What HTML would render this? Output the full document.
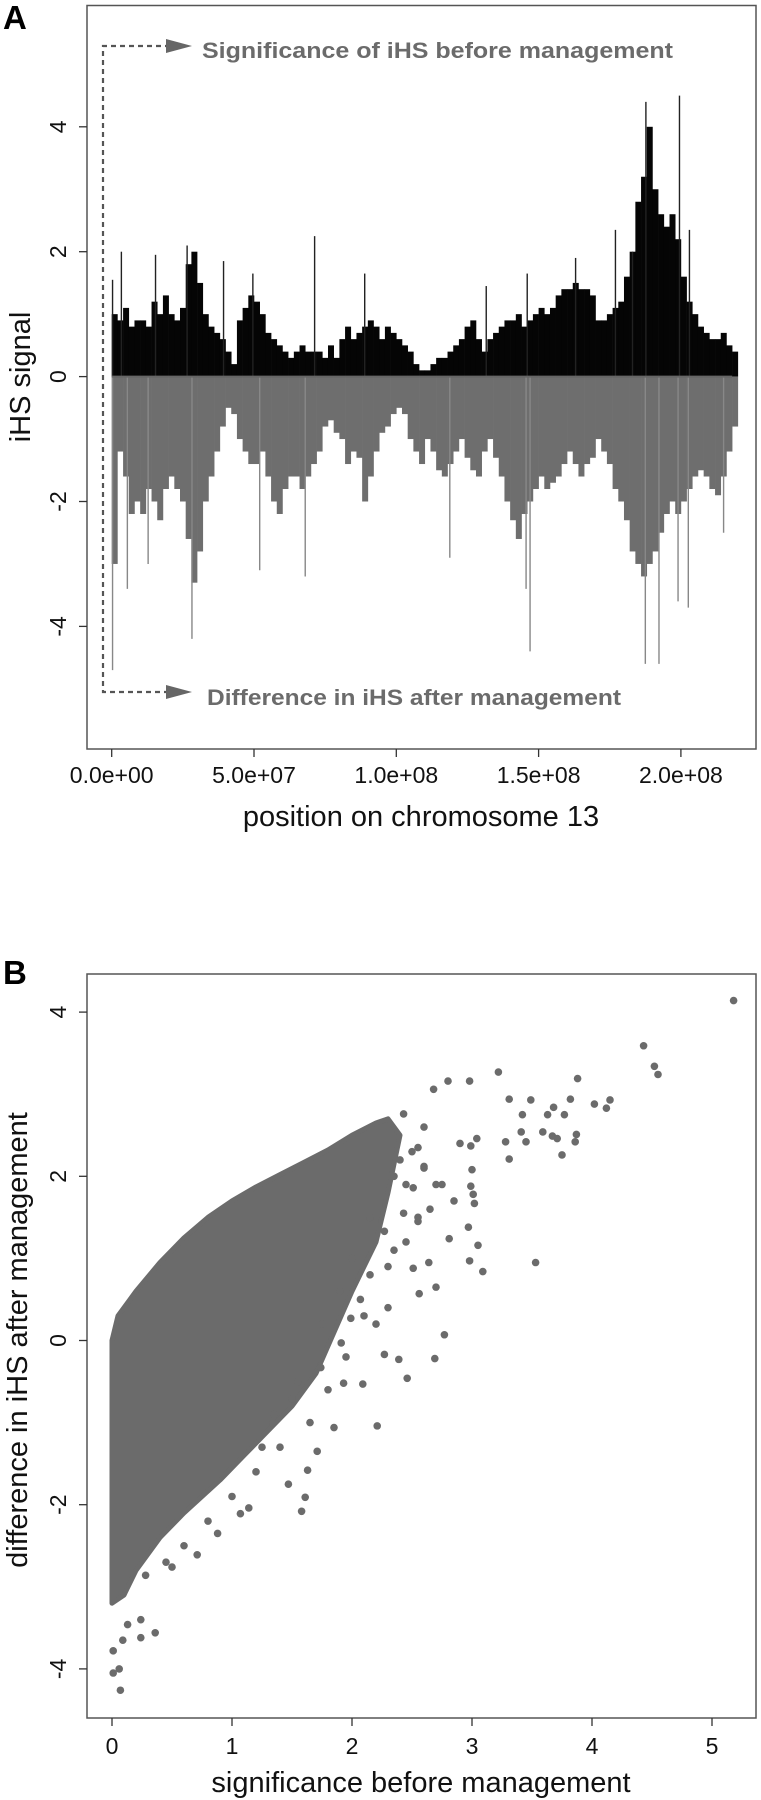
<!DOCTYPE html>
<html><head><meta charset="utf-8"><style>
html,body{margin:0;padding:0;background:#fff;}
svg{display:block;font-family:"Liberation Sans",Arial,sans-serif;}
</style></head><body>
<svg id="fig" width="761" height="1800" viewBox="0 0 761 1800" xmlns="http://www.w3.org/2000/svg">
<text x="3" y="29" font-size="33" font-weight="bold">A</text>
<text x="3" y="984" font-size="33" font-weight="bold">B</text>
<g id="pa"></g>
<g id="pb"></g>
</svg>
<script>
// ---------- Panel A data (bins of 2e6 bp) ----------
const binSizeA = 2e6;
const beforeVals = [1.0,0.9,1.1,0.8,0.9, 0.9,0.8,1.2,1.0,1.3, 1.0,0.9,1.1,1.8,2.0, 1.5,1.0,0.8,0.7,0.6,
 0.4,0.2,0.9,1.1,1.3, 1.2,1.0,0.7,0.6,0.5, 0.4,0.3,0.4,0.5,0.4, 0.4,0.4,0.3,0.5,0.3,
 0.6,0.8,0.6,0.7,0.8, 0.9,0.8,0.6,0.8,0.7, 0.6,0.5,0.4,0.2,0.1, 0.1,0.2,0.3,0.3,0.4,
 0.5,0.6,0.8,0.9,0.6, 0.4,0.6,0.7,0.8,0.9, 0.9,1.0,0.8,0.9,1.0, 1.1,1.0,1.1,1.3,1.4,
 1.4,1.5,1.4,1.4,1.3, 0.9,0.9,1.0,1.1,1.2, 1.6,2.0,2.8,3.2,4.0, 3.0,2.6,2.4,2.6,2.2,
 1.6,1.2,1.0,0.8,0.7, 0.6,0.6,0.7,0.5,0.4];
const afterVals = [-3.0,-1.2,-1.6,-2.2,-2.0, -2.2,-1.8,-2.0,-2.3,-1.8, -1.6,-1.8,-2.0,-2.6,-3.3, -2.8,-2.0,-1.6,-1.2,-0.8,
 -0.5,-0.6,-1.0,-1.2,-1.4, -1.4,-1.2,-1.6,-2.0,-2.2, -1.8,-1.6,-1.6,-1.8,-1.6, -1.4,-1.2,-0.8,-0.7,-0.9,
 -1.0,-1.4,-1.2,-1.3,-2.0, -1.6,-1.2,-0.9,-0.8,-0.6, -0.5,-0.6,-1.0,-1.2,-1.4, -1.0,-1.2,-1.5,-1.6,-1.4,
 -1.2,-1.0,-1.3,-1.5,-1.6, -1.2,-1.0,-1.3,-1.6,-2.0, -2.3,-2.6,-2.2,-2.0,-1.8, -1.6,-1.8,-1.7,-1.6,-1.4,
 -1.2,-1.4,-1.6,-1.4,-1.3, -1.0,-1.2,-1.4,-1.8,-2.0, -2.3,-2.8,-3.0,-3.2,-3.0, -2.8,-2.5,-2.2,-2.0,-2.2,
 -2.0,-1.8,-1.6,-1.5,-1.6, -1.8,-1.9,-1.6,-1.2,-0.8];
const posSpikeMb = [0.3,3.4,15.4,26.5,39.3,49.6,71.3,88.9,131.6,146,163,177,183,187.7,199.5,203];
const posSpikeVal = [1.55,2.0,1.95,2.1,1.85,1.65,2.25,1.65,1.45,1.65,1.9,2.35,2.0,4.4,4.5,2.35];
const negSpikeMb = [0.3,5.5,12.8,28.2,52,68,118.8,145.6,147,187.5,192.3,199,202.6,215];
const negSpikeVal = [-4.7,-3.4,-3.0,-4.2,-3.1,-3.2,-2.9,-3.4,-4.4,-4.6,-4.6,-3.6,-3.7,-2.5];
const xTicksA = [0,5e7,1e8,1.5e8,2e8];
const xTickLabelsA = ["0.0e+00","5.0e+07","1.0e+08","1.5e+08","2.0e+08"];
const yTicksA = [-4,-2,0,2,4];

// ---------- Panel B data ----------
const cloudX = [0,0.05,0.2,0.4,0.6,0.8,1.0,1.2,1.4,1.6,1.8,2.0,2.2,2.3,2.4,2.3,2.2,2.0,1.85,1.7,1.5,1.3,1.1,0.9,0.6,0.4,0.2,0.1,0];
const cloudY = [0,0.3,0.6,0.95,1.25,1.5,1.7,1.87,2.02,2.17,2.32,2.5,2.65,2.7,2.5,1.8,1.2,0.6,0.1,-0.4,-0.8,-1.1,-1.4,-1.7,-2.1,-2.4,-2.8,-3.1,-3.2];
const ptX = [5.18,4.43,4.52,4.55,4.15,4.12,4.02,3.88,3.82,3.87,3.86,3.75,3.77,3.68,3.63,3.59,3.67,3.71,
 3.49,3.42,3.41,3.45,3.31,3.28,3.31,3.22,2.98,2.80,2.68,3.53,3.09,3.05,2.98,2.97,3.0,3.01,3.02,2.99,3.04,2.99,
 2.77,2.69,2.46,2.21,1.85,1.58,1.61,1.47,1.63,1.71,2.81,2.70,2.56,2.64,2.51,2.39,2.27,2.09,1.93,
 1.14,1.07,0.88,0.71,0.50,0.28,0.24,0.36,0.13,0.24,0.09,0.01,0.06,0.01,0.07,
 2.15,2.07,1.99,1.91,1.74,1.5,1.34,2.43,2.35,2.51,2.27,2.6,2.43,2.6,2.35,2.2,2.45,2.55,
 2.5,2.6,2.75,2.85,2.9,2.55,2.45,2.3,2.1,1.95,1.8,1.65,1.4,1.2,1.0,0.8,0.6,0.45,
 2.3,2.15,2.0,1.9,1.75,1.55,1.35,1.25,2.65,2.7,2.4,2.55];
const ptY = [4.14,3.59,3.34,3.24,2.93,2.83,2.88,3.19,2.94,2.51,2.42,2.26,2.75,2.84,2.75,2.54,2.49,2.46,
 2.93,2.75,2.54,2.42,2.94,2.42,2.21,3.27,3.16,3.16,3.06,0.95,0.84,1.16,0.97,1.38,2.08,1.78,1.67,1.88,2.46,2.37,
 0.07,-0.22,-0.46,-1.04,-1.06,-2.08,-1.91,-1.75,-1.58,-1.35,1.24,0.65,0.57,0.95,0.88,-0.23,-0.17,-0.53,-0.52,
 -2.04,-2.11,-2.35,-2.61,-2.76,-2.86,-3.40,-3.56,-3.46,-3.62,-3.65,-3.78,-4.0,-4.05,-4.26,
 0.80,0.5,0.27,-0.03,-0.33,-0.71,-1.01,1.55,2.0,1.86,1.33,2.6,2.76,2.12,1.1,0.2,1.9,1.45,
 2.3,2.1,1.9,1.7,2.4,1.5,1.2,0.9,0.3,-0.2,-0.6,-1.0,-1.3,-1.6,-1.9,-2.2,-2.5,-2.7,
 0.4,1.5,1.0,0.6,0.2,-0.5,-0.9,-1.3,1.6,1.9,2.2,2.35];
const xTicksB = [0,1,2,3,4,5];
const yTicksB = [-4,-2,0,2,4];

const NS = "http://www.w3.org/2000/svg";
function mk(tag, attrs, parent){const e=document.createElementNS(NS,tag);for(const k in attrs)e.setAttribute(k,attrs[k]);parent.appendChild(e);return e;}

// ---------- Panel A ----------
const pa = document.getElementById('pa');
const xA = v => 111.7 + v*2.846e-6;
const yA = v => 376.6 - v*62.45;
const bw = xA(binSizeA)-xA(0);
beforeVals.forEach((v,i)=>{
  const r = mk('rect',{x:xA(i*binSizeA),y:yA(v),width:bw+0.3,height:yA(0)-yA(v),fill:'#050505'},pa);
  
  
});
afterVals.forEach((v,i)=>{
  const r = mk('rect',{x:xA(i*binSizeA),y:yA(0),width:bw+0.3,height:yA(v)-yA(0),fill:'#6e6e6e'},pa);
  
  
});
posSpikeMb.forEach((p,i)=>{
  const l = mk('line',{x1:xA(p*1e6),x2:xA(p*1e6),y1:yA(0),y2:yA(posSpikeVal[i]),stroke:'#222','stroke-width':1.4},pa);
  
  
});
negSpikeMb.forEach((p,i)=>{
  const l = mk('line',{x1:xA(p*1e6),x2:xA(p*1e6),y1:yA(0),y2:yA(negSpikeVal[i]),stroke:'#888','stroke-width':1.4},pa);
  
  
});
const zl = mk('line',{x1:xA(0),x2:xA(2.18e8),y1:yA(0),y2:yA(0),stroke:'#666','stroke-width':2},pa);


const boxA = mk('rect',{x:87,y:5.5,width:669,height:743.5,fill:'none',stroke:'#555','stroke-width':1.5},pa);


xTicksA.forEach((t,i)=>{
  mk('line',{x1:xA(t),x2:xA(t),y1:749,y2:757,stroke:'#333','stroke-width':1.3},pa);
  const tx = mk('text',{x:xA(t),y:783,'font-size':23,'text-anchor':'middle',fill:'#111'},pa);
  tx.textContent = xTickLabelsA[i];
  
  
});
yTicksA.forEach(t=>{
  mk('line',{x1:79,x2:87,y1:yA(t),y2:yA(t),stroke:'#333','stroke-width':1.3},pa);
  const tx = mk('text',{x:0,y:0,'font-size':23,'text-anchor':'middle',fill:'#111',transform:`translate(66,${yA(t)}) rotate(-90)`},pa);
  tx.textContent = String(t);
  
  
});
const xtA = mk('text',{x:421,y:826,'font-size':29,'text-anchor':'middle',fill:'#111'},pa);
xtA.textContent='position on chromosome 13';


const ytA = mk('text',{x:0,y:0,'font-size':29,'text-anchor':'middle',fill:'#111',transform:'translate(30,377) rotate(-90)'},pa);
ytA.textContent='iHS signal';


const dash = mk('path',{d:'M170,46 L103,46 L103,692 L170,692',fill:'none',stroke:'#555','stroke-width':2.2,'stroke-dasharray':'5,4'},pa);


[46,692].forEach(y=>{
  const a = mk('polygon',{points:`166,${y-7} 192,${y} 166,${y+7}`,fill:'#666'},pa);
  
  
});
const t1 = mk('text',{x:202,y:58,'font-size':22,'font-weight':'bold',fill:'#6b6b6b',textLength:471,lengthAdjust:'spacingAndGlyphs'},pa);
t1.textContent='Significance  of iHS before management';


const t2 = mk('text',{x:207,y:705,'font-size':22,'font-weight':'bold',fill:'#6b6b6b',textLength:414,lengthAdjust:'spacingAndGlyphs'},pa);
t2.textContent='Difference in iHS after management';



// ---------- Panel B ----------
const pb = document.getElementById('pb');
const xB = v => 112 + v*120;
const yB = v => 1340.5 - v*82.1;
const cloud = mk('polygon',{points:cloudX.map((x,i)=>xB(x)+','+yB(cloudY[i])).join(' '),fill:'#6b6b6b',stroke:'#6b6b6b','stroke-width':5,'stroke-linejoin':'round'},pb);


ptX.forEach((x,i)=>{
  const c = mk('circle',{cx:xB(x),cy:yB(ptY[i]),r:3.8,fill:'#6b6b6b'},pb);
  
  
});
const boxB = mk('rect',{x:87,y:974,width:669,height:744,fill:'none',stroke:'#555','stroke-width':1.5},pb);


xTicksB.forEach(t=>{
  mk('line',{x1:xB(t),x2:xB(t),y1:1718,y2:1726,stroke:'#333','stroke-width':1.3},pb);
  const tx = mk('text',{x:xB(t),y:1754,'font-size':23,'text-anchor':'middle',fill:'#111'},pb);
  tx.textContent = String(t);
  
  
});
yTicksB.forEach(t=>{
  mk('line',{x1:79,x2:87,y1:yB(t),y2:yB(t),stroke:'#333','stroke-width':1.3},pb);
  const tx = mk('text',{x:0,y:0,'font-size':23,'text-anchor':'middle',fill:'#111',transform:`translate(66,${yB(t)}) rotate(-90)`},pb);
  tx.textContent = String(t);
  
  
});
const xtB = mk('text',{x:421,y:1792,'font-size':29,'text-anchor':'middle',fill:'#111'},pb);
xtB.textContent='significance before management';


const ytB = mk('text',{x:0,y:0,'font-size':29,'text-anchor':'middle',fill:'#111',transform:'translate(27,1340) rotate(-90)'},pb);
ytB.textContent='difference in iHS after management';


</script>
</body></html>
